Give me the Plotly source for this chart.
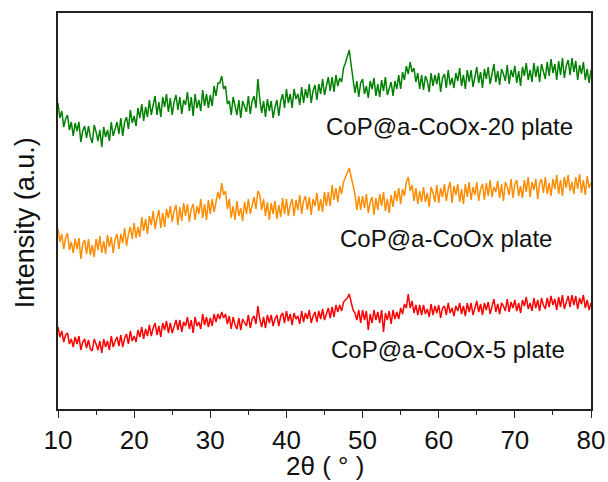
import plotly.graph_objects as go

# 2-theta grid start / step (degrees)
two_theta_start = 10.0
two_theta_step = 0.25

# Intensities (a.u.), 0.25 deg step from 10 to 80 deg
green_20 = [
    304, 289, 296, 280, 288, 292, 277, 285,   # 10-11.75
    271, 284, 276, 285, 265, 276, 281, 269,   # 12-13.75
    281, 270, 264, 282, 275, 266, 277, 260,   # 14-15.75
    280, 270, 277, 266, 285, 271, 278, 285,   # 16-17.75
    273, 289, 271, 285, 290, 278, 297, 284,   # 18-19.75
    291, 281, 299, 289, 303, 286, 300, 290,   # 20-21.75
    307, 292, 302, 311, 292, 305, 290, 310,   # 22-23.75
    300, 313, 295, 309, 292, 305, 312, 297,   # 24-25.75
    310, 293, 307, 302, 315, 296, 310, 291,   # 26-27.75
    313, 299, 307, 296, 317, 301, 313, 299,   # 28-29.75
    312, 301, 321, 311, 324, 324, 331, 318,   # 30-31.75
    321, 303, 306, 292, 310, 299, 292, 307,   # 32-33.75
    289, 306, 301, 295, 311, 293, 306, 311,   # 34-35.75
    299, 328, 308, 294, 306, 290, 308, 296,   # 36-37.75
    306, 289, 300, 307, 291, 306, 313, 299,   # 38-39.75
    318, 304, 313, 299, 318, 308, 313, 302,   # 40-41.75
    320, 304, 318, 309, 323, 304, 316, 322,   # 42-43.75
    307, 323, 313, 328, 312, 323, 330, 316,   # 44-45.75
    330, 315, 332, 321, 329, 325, 339, 344,   # 46-47.75
    352, 357, 342, 326, 314, 326, 310, 324,   # 48-49.75
    328, 313, 321, 309, 326, 318, 329, 311,   # 50-51.75
    323, 310, 327, 316, 330, 312, 320, 325,   # 52-53.75
    311, 326, 318, 332, 318, 335, 327, 341,   # 54-55.75
    333, 345, 335, 339, 325, 334, 318, 332,   # 56-57.75
    317, 331, 326, 315, 334, 321, 332, 323,   # 58-59.75
    334, 315, 329, 333, 319, 337, 322, 329,   # 60-61.75
    319, 334, 326, 339, 321, 332, 318, 337,   # 62-63.75
    325, 337, 320, 332, 340, 324, 335, 319,   # 64-65.75
    338, 328, 340, 323, 334, 343, 325, 336,   # 66-67.75
    322, 338, 333, 326, 342, 323, 337, 330,   # 68-69.75
    341, 324, 336, 321, 340, 331, 344, 327,   # 70-71.75
    337, 325, 344, 330, 341, 325, 343, 334,   # 72-73.75
    328, 345, 331, 348, 334, 343, 327, 346,   # 74-75.75
    332, 349, 329, 341, 347, 332, 349, 335,   # 76-77.75
    346, 327, 342, 333, 345, 327, 338, 324,   # 78-79.75
    337,                                      # 80
]

orange_std = [
    178, 165, 173, 158, 169, 174, 157, 165,   # 10-11.75
    154, 168, 158, 169, 148, 163, 167, 153,   # 12-13.75
    168, 152, 162, 150, 168, 157, 171, 154,   # 14-15.75
    166, 153, 172, 160, 170, 154, 168, 173,   # 16-17.75
    158, 173, 164, 179, 161, 173, 180, 168,   # 18-19.75
    184, 169, 180, 170, 190, 176, 188, 173,   # 20-21.75
    191, 182, 196, 178, 189, 197, 179, 194,   # 22-23.75
    180, 198, 189, 201, 185, 196, 202, 182,   # 24-25.75
    200, 186, 204, 191, 203, 185, 198, 203,   # 26-27.75
    187, 201, 193, 208, 189, 203, 187, 207,   # 28-29.75
    193, 208, 195, 207, 215, 208, 224, 212,   # 30-31.75
    216, 198, 208, 189, 201, 187, 206, 191,   # 32-33.75
    199, 186, 205, 193, 208, 193, 202, 210,   # 34-35.75
    198, 216, 212, 197, 208, 191, 205, 187,   # 36-37.75
    204, 193, 206, 188, 202, 190, 209, 193,   # 38-39.75
    208, 191, 202, 208, 191, 207, 197, 212,   # 40-41.75
    193, 206, 211, 197, 210, 192, 208, 201,   # 42-43.75
    214, 196, 208, 195, 215, 201, 215, 201,   # 44-45.75
    222, 207, 219, 205, 221, 213, 225, 230,   # 46-47.75
    235, 239, 230, 221, 213, 197, 211, 197,   # 48-49.75
    211, 199, 213, 194, 205, 210, 192, 209,   # 50-51.75
    197, 213, 201, 215, 196, 208, 194, 212,   # 52-53.75
    200, 216, 206, 219, 203, 218, 211, 225,   # 54-55.75
    230, 216, 222, 206, 219, 203, 216, 205,   # 56-57.75
    220, 205, 214, 200, 220, 214, 205, 222,   # 58-59.75
    204, 219, 210, 223, 206, 218, 225, 204,   # 60-61.75
    221, 212, 223, 205, 218, 203, 223, 210,   # 62-63.75
    225, 207, 220, 212, 225, 206, 218, 223,   # 64-65.75
    207, 224, 211, 227, 210, 220, 215, 226,   # 66-67.75
    209, 223, 206, 225, 220, 212, 228, 209,   # 68-69.75
    223, 227, 211, 221, 209, 227, 215, 230,   # 70-71.75
    210, 225, 217, 228, 208, 224, 228, 214,   # 72-73.75
    230, 213, 224, 211, 228, 218, 232, 213,   # 74-75.75
    227, 211, 230, 219, 232, 216, 225, 213,   # 76-77.75
    230, 218, 233, 214, 227, 212, 231, 219,   # 78-79.75
    224,                                      # 80
]

red_5 = [
    80, 70, 76, 65, 72, 74, 63, 68,           # 10-11.75
    60, 70, 63, 71, 57, 65, 68, 59,           # 12-13.75
    67, 58, 56, 68, 63, 57, 66, 54,           # 14-15.75
    68, 60, 66, 57, 71, 60, 66, 70,           # 16-17.75
    61, 72, 60, 69, 73, 63, 76, 66,           # 18-19.75
    71, 65, 77, 70, 80, 68, 78, 71,           # 20-21.75
    82, 71, 79, 84, 72, 81, 70, 84,           # 22-23.75
    77, 86, 74, 84, 74, 82, 87, 77,           # 24-25.75
    87, 75, 85, 81, 90, 78, 87, 74,           # 26-27.75
    90, 81, 85, 78, 93, 82, 90, 80,           # 28-29.75
    89, 81, 93, 85, 93, 88, 95, 89,           # 30-31.75
    93, 83, 91, 78, 90, 82, 78, 89,           # 32-33.75
    77, 88, 85, 81, 92, 79, 88, 91,           # 34-35.75
    83, 101, 88, 80, 90, 79, 92, 84,          # 36-37.75
    92, 81, 88, 92, 81, 91, 94, 84,           # 38-39.75
    96, 86, 93, 82, 94, 88, 91, 83,           # 40-41.75
    96, 85, 94, 88, 97, 84, 91, 95,           # 42-43.75
    85, 96, 88, 98, 87, 94, 99, 89,           # 44-45.75
    100, 90, 102, 95, 102, 96, 105, 107,      # 46-47.75
    109, 113, 106, 97, 94, 87, 97, 84,        # 48-49.75
    97, 87, 96, 77, 93, 84, 97, 87,           # 50-51.75
    95, 84, 97, 75, 94, 87, 96, 83,           # 52-53.75
    97, 88, 95, 88, 99, 93, 103, 99,          # 54-55.75
    113, 99, 106, 94, 102, 92, 102, 92,       # 56-57.75
    102, 93, 98, 90, 103, 92, 101, 94,        # 58-59.75
    102, 89, 99, 101, 92, 104, 94, 99,        # 60-61.75
    91, 101, 96, 104, 93, 101, 91, 104,       # 62-63.75
    95, 104, 92, 100, 106, 95, 103, 92,       # 64-65.75
    104, 97, 105, 93, 101, 108, 95, 103,      # 66-67.75
    93, 104, 101, 96, 108, 95, 105, 99,       # 68-69.75
    107, 96, 104, 94, 107, 101, 110, 98,      # 70-71.75
    104, 96, 109, 99, 107, 96, 109, 102,      # 72-73.75
    98, 109, 100, 111, 102, 108, 97, 110,     # 74-75.75
    100, 112, 98, 106, 111, 100, 112, 102,    # 76-77.75
    111, 98, 109, 103, 112, 99, 107, 97,      # 78-79.75
    104,                                      # 80
]

series_names = ["CoP@a-CoOx-20 plate", "CoP@a-CoOx plate", "CoP@a-CoOx-5 plate"]
series_colors = ["#008000", "#FF8C00", "#FF0000"]
x_ticks = [10, 20, 30, 40, 50, 60, 70, 80]

fig = go.Figure()
for vals, name, color in zip([green_20, orange_std, red_5], series_names, series_colors):
    xs = [two_theta_start + two_theta_step * i for i in range(len(vals))]
    fig.add_trace(go.Scatter(x=xs, y=vals, mode="lines", name=name,
                             line=dict(color=color, width=1.5), showlegend=False))

label_pos = [(61.4, 281), (61.0, 169), (61.2, 58)]
for (lx, ly), name in zip(label_pos, series_names):
    fig.add_annotation(x=lx, y=ly, xref="x", yref="y", text=name, showarrow=False,
                       font=dict(family="Liberation Sans, Arial", size=24, color="#111111"))

# axis titles as annotations for exact placement
fig.add_annotation(x=-0.063, y=0.47, xref="paper", yref="paper", text="Intensity (a.u.)",
                   textangle=-90, showarrow=False, xanchor="center", yanchor="middle",
                   font=dict(family="Liberation Sans, Arial", size=27, color="#111"))
fig.add_annotation(x=0.5, y=-0.145, xref="paper", yref="paper", text="2θ ( ° )",
                   showarrow=False, xanchor="center", yanchor="middle",
                   font=dict(family="Liberation Sans, Arial", size=26, color="#111"))

fig.update_layout(
    width=608, height=482,
    margin=dict(l=58, r=17, t=13, b=73, autoexpand=False),
    paper_bgcolor="white", plot_bgcolor="white",
    xaxis=dict(
        range=[10, 80], tickvals=x_ticks, ticks="outside", ticklen=7, tickwidth=1.3,
        tickcolor="#222", showline=True, linecolor="#222", linewidth=1.5, mirror=True,
        showgrid=False, zeroline=False, automargin=False,
        minor=dict(dtick=5, tick0=10, ticks="outside", ticklen=4, tickwidth=1.2, tickcolor="#222"),
        tickfont=dict(family="Liberation Sans, Arial", size=26, color="#111"),
    ),
    yaxis=dict(
        range=[-2, 394], showticklabels=False, ticks="", showline=True, linecolor="#222",
        linewidth=1.5, mirror=True, showgrid=False, zeroline=False, automargin=False,
    ),
)

fig.write_html("out.html")
